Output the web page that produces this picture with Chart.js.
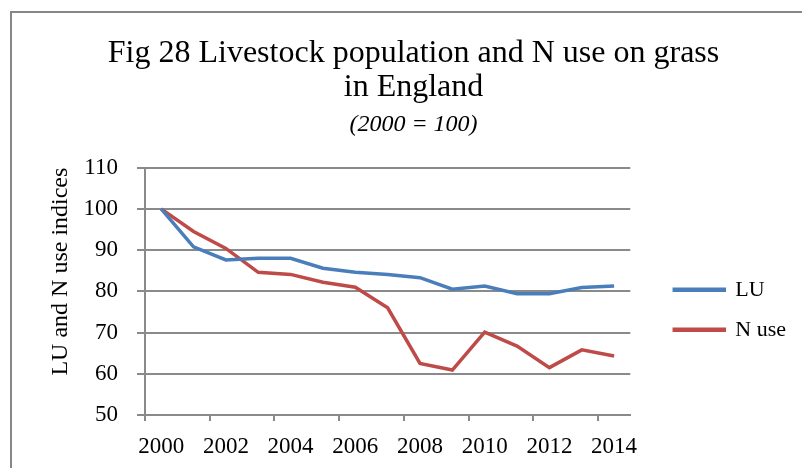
<!DOCTYPE html>
<html>
<head>
<meta charset="utf-8">
<script src="https://cdn.jsdelivr.net/npm/chart.js@4/dist/chart.umd.min.js"></script>
<style>
  html, body { margin: 0; padding: 0; background: #fff; overflow: hidden; }
  #frame {
    position: absolute; left: 10px; top: 11px; width: 900px; height: 600px;
    border-left: 2px solid #878787; border-top: 2px solid #878787;
  }
  #wrap { position: absolute; left: 0; top: 0; width: 802px; height: 468px; }
</style>
</head>
<body>
<div id="frame"></div>
<div id="wrap"><canvas id="chart"></canvas></div>
<script>
const years = ['2000', '2001', '2002', '2003', '2004', '2005', '2006', '2007',
               '2008', '2009', '2010', '2011', '2012', '2013', '2014'];
const luIndex = [100, 90.8, 87.6, 88.0, 88.0, 85.6, 84.6, 84.1, 83.3, 80.5, 81.3, 79.4, 79.4, 80.9, 81.3];
const nUseIndex = [100, 94.5, 90.4, 84.6, 84.1, 82.2, 81.0, 76.0, 62.5, 60.9, 70.1, 66.7, 61.5, 65.8, 64.3];
const yTicks = [50, 60, 70, 80, 90, 100, 110];

const serif = 'Liberation Serif, Times New Roman, serif';
const gray = '#8a8a8a';

new Chart(document.getElementById('chart'), {
    type: 'line',
    data: {
        labels: years,
        datasets: [{
            label: 'LU',
            data: luIndex,
            borderColor: '#4a7ebb',
            backgroundColor: '#4a7ebb',
            borderWidth: 3.5,
            pointRadius: 0,
            tension: 0
        }, {
            label: 'N use',
            data: nUseIndex,
            borderColor: '#be4b48',
            backgroundColor: '#be4b48',
            borderWidth: 3.5,
            pointRadius: 0,
            tension: 0
        }]
    },
    options: {
        responsive: true,
        maintainAspectRatio: false,
        animation: false,
        layout: { padding: { left: 31, right: 6, top: 37, bottom: 0 } },
        plugins: {
            title: {
                display: true,
                text: ['Fig 28 Livestock population and N use on grass', 'in England'],
                color: '#000',
                font: { family: serif, size: 32, weight: 'normal', lineHeight: 1.06 },
                padding: { top: 0, bottom: 5 }
            },
            subtitle: {
                display: true,
                text: '(2000 = 100)',
                color: '#000',
                font: { family: serif, size: 24, style: 'italic', weight: 'normal' },
                padding: { top: 0, bottom: 29 }
            },
            legend: {
                position: 'right',
                fullSize: false,
                maxWidth: 170,
                title: { display: true, text: '', font: { size: 10, lineHeight: 1 }, padding: { top: 27, bottom: 0 } },
                labels: {
                    color: '#000',
                    font: { family: serif, size: 22 },
                    boxWidth: 50,
                    boxHeight: 1,
                    padding: 18
                }
            },
            tooltip: { enabled: false }
        },
        scales: {
            x: {
                offset: true,
                afterFit: (scale) => { scale.height = 53; },
                grid: {
                    offset: true,
                    drawOnChartArea: false,
                    tickLength: 6,
                    lineWidth: 2,
                    color: (ctx) => (ctx.index % 2 === 0 ? gray : 'rgba(0,0,0,0)')
                },
                border: { color: gray, width: 2 },
                ticks: {
                    autoSkip: false,
                    maxRotation: 0,
                    color: '#000',
                    padding: 12,
                    font: { family: serif, size: 23 },
                    callback: (value, i) => (i % 2 === 0 ? years[i] : '')
                }
            },
            y: {
                min: 50,
                max: 110,
                afterFit: (scale) => { scale.width = 114; },
                afterBuildTicks: (scale) => { scale.ticks = yTicks.map(v => ({ value: v })); },
                grid: { color: gray, lineWidth: 2, tickLength: 8 },
                border: { color: gray, width: 2 },
                ticks: {
                    color: '#000',
                    padding: 19,
                    font: { family: serif, size: 23 }
                },
                title: {
                    display: true,
                    text: 'LU and N use indices',
                    align: 'end',
                    color: '#000',
                    font: { family: serif, size: 24 },
                    padding: { top: 15, bottom: 0 }
                }
            },
            gap: {
                type: 'linear',
                position: 'right',
                afterFit: (scale) => { scale.width = 26; },
                grid: { display: false },
                border: { display: false },
                ticks: { display: false }
            }
        }
    }
});
</script>
</body>
</html>
